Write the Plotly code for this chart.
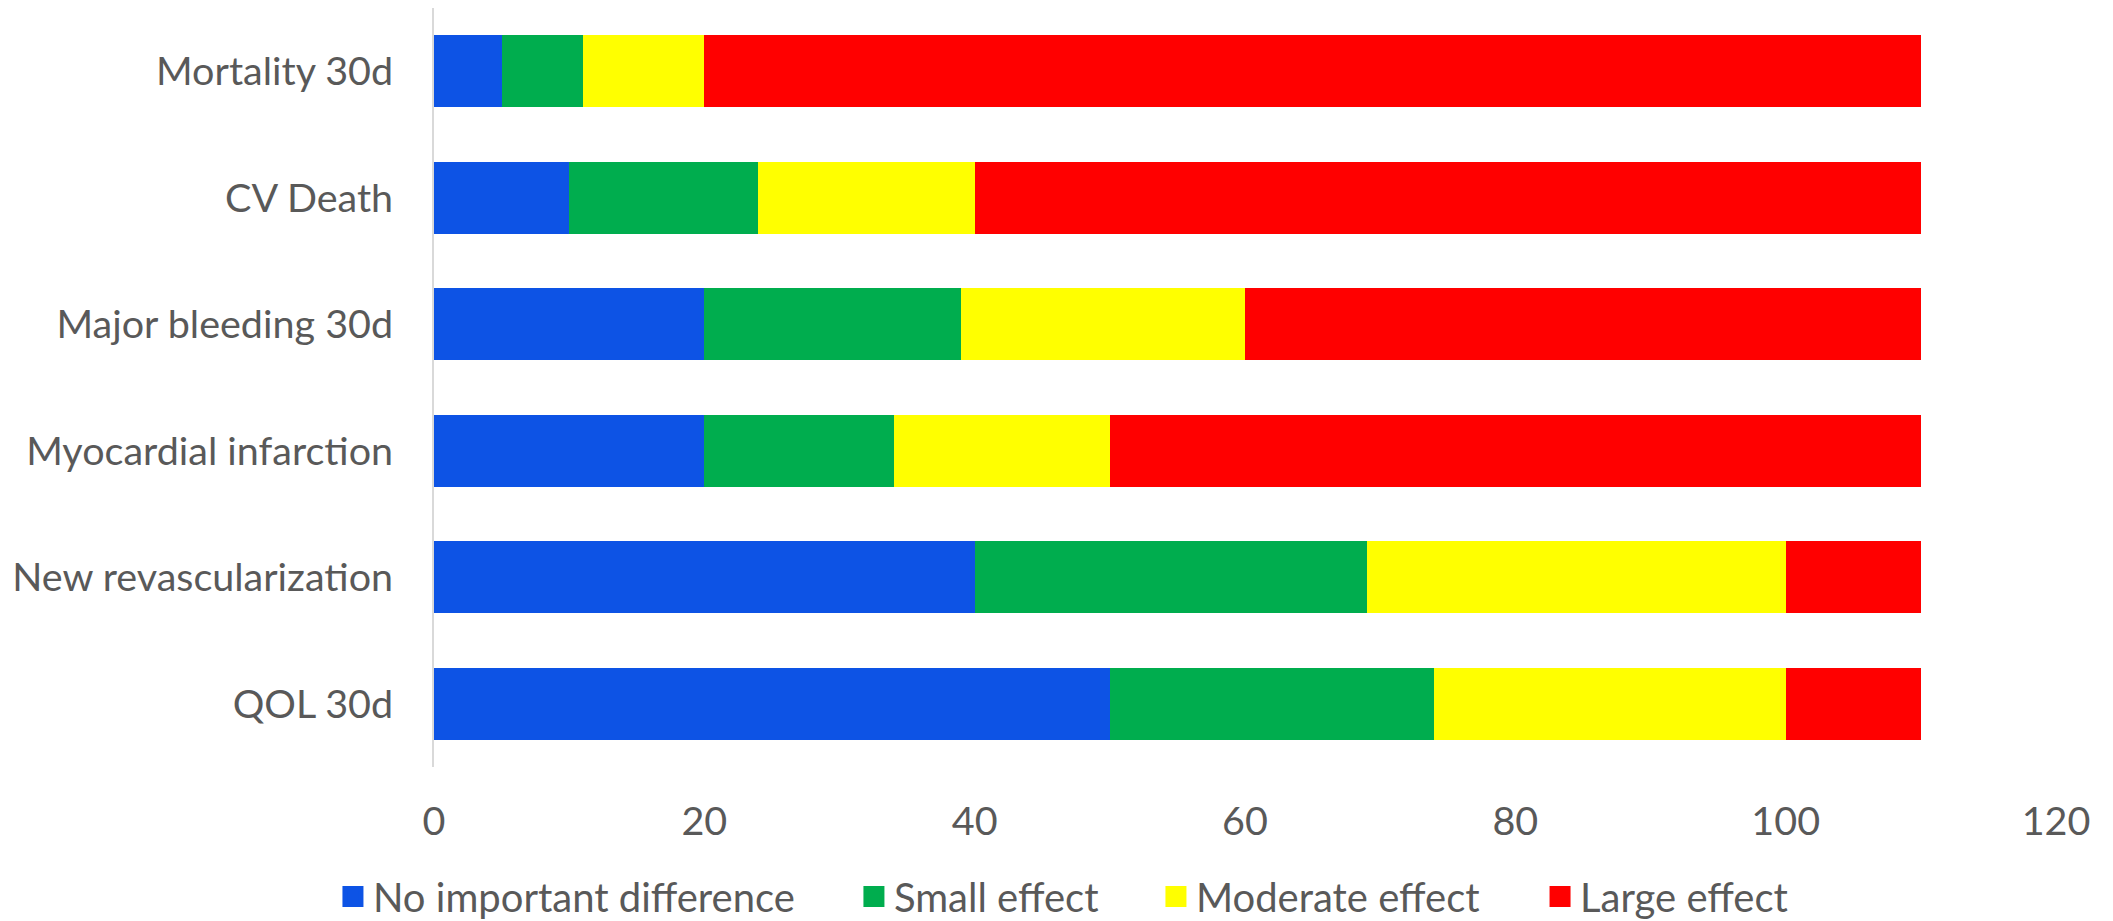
import plotly.graph_objects as go

categories = ["Mortality 30d", "CV Death", "Major bleeding 30d",
              "Myocardial infarction", "New revascularization", "QOL 30d"]
series_names = ["No important difference", "Small effect", "Moderate effect", "Large effect"]
no_important = [5, 10, 20, 20, 40, 50]
small_effect = [6, 14, 19, 14, 29, 24]
moderate_effect = [9, 16, 21, 16, 31, 26]
large_effect = [90, 70, 50, 60, 10, 10]
x_ticks = [0, 20, 40, 60, 80, 100, 120]

colors = ["#0D53E5", "#00AD4E", "#FFFF00", "#FF0000"]
values = [no_important, small_effect, moderate_effect, large_effect]
legend_ids = ["legend", "legend2", "legend3", "legend4"]
legend_x = [-0.0623, 0.2589, 0.4451, 0.6819]

FONT = "Lato"
TXT = "#595959"

fig = go.Figure()
for name, vals, col, lid in zip(series_names, values, colors, legend_ids):
    fig.add_trace(go.Bar(
        y=categories, x=vals, name=name, orientation="h",
        marker=dict(color=col, line=dict(width=0)),
        showlegend=False, legendgroup=name,
    ))
for name, col, lid in zip(series_names, colors, legend_ids):
    fig.add_trace(go.Scatter(
        x=[None], y=[None], mode="markers", name=name, legendgroup=name,
        legend=lid,
        marker=dict(symbol="square", size=16, color=col, line=dict(color=col, width=5)),
        showlegend=True,
    ))

legend_common = dict(orientation="h", xanchor="left", y=-0.171, yanchor="middle",
                     font=dict(family=FONT, size=40, color=TXT), itemclick=False,
                     itemwidth=30, bgcolor="rgba(0,0,0,0)", borderwidth=0)
layout_legends = {lid: dict(legend_common, x=lx) for lid, lx in zip(legend_ids, legend_x)}

fig.update_layout(
    width=2113, height=921,
    barmode="stack", bargap=0.428,
    plot_bgcolor="white", paper_bgcolor="white",
    margin=dict(l=426, r=65, t=0, b=162),
    font=dict(family=FONT, size=39.5, color=TXT),
    showlegend=True,
    **layout_legends,
)
fig.update_xaxes(range=[0, 120], tickvals=x_ticks, ticktext=[str(v) for v in x_ticks],
                 showgrid=False, zeroline=False, showline=False, automargin=False,
                 ticklabelstandoff=27, tickfont=dict(size=39.5, color=TXT))
fig.update_yaxes(categoryorder="array", categoryarray=categories, autorange="reversed",
                 showgrid=False, zeroline=False, showline=True, linecolor="#D9D9D9",
                 linewidth=2, ticks="", ticklabelstandoff=31, automargin=False,
                 tickfont=dict(size=39.5, color=TXT))

fig.write_html("out.html")
